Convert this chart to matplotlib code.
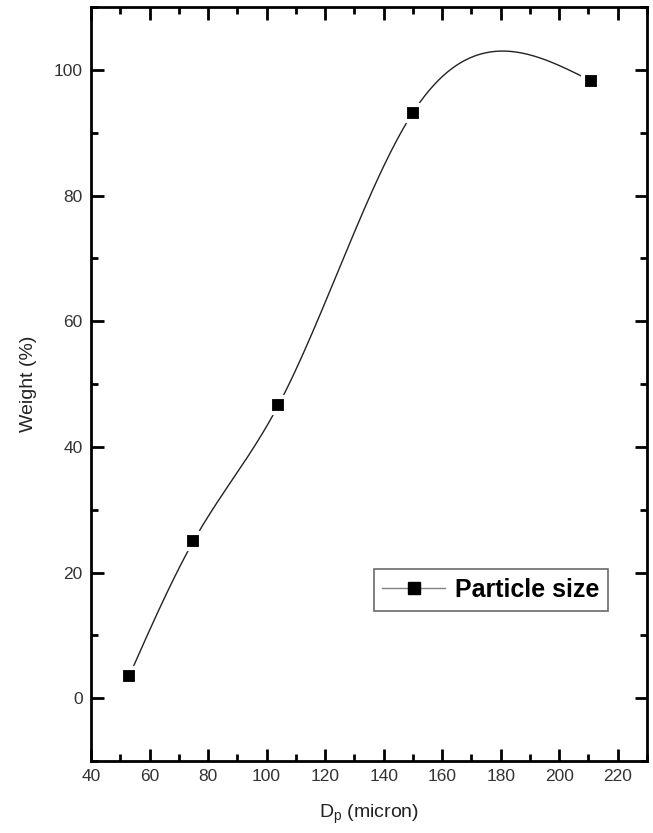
import numpy as np
import matplotlib.pyplot as plt
from matplotlib.ticker import MultipleLocator

plt.rcParams['font.family'] = ['Liberation Sans', 'DejaVu Sans']

# particle size data
dp = [53, 75, 104, 150, 211]
weight = [3.5, 25, 46.6, 93.2, 98.2]


def natural_spline(x, y, xs):
    # natural cubic spline, second derivatives from tridiagonal system
    x = np.asarray(x, float)
    y = np.asarray(y, float)
    n = len(x)
    h = np.diff(x)
    A = np.zeros((n, n))
    b = np.zeros(n)
    A[0, 0] = A[-1, -1] = 1
    for i in range(1, n - 1):
        A[i, i - 1] = h[i - 1]
        A[i, i] = 2 * (h[i - 1] + h[i])
        A[i, i + 1] = h[i]
        b[i] = 6 * ((y[i + 1] - y[i]) / h[i] - (y[i] - y[i - 1]) / h[i - 1])
    M = np.linalg.solve(A, b)
    idx = np.clip(np.searchsorted(x, xs) - 1, 0, n - 2)
    x0, x1 = x[idx], x[idx + 1]
    hh = x1 - x0
    t0, t1 = x1 - xs, xs - x0
    return (M[idx] * t0**3 / (6 * hh) + M[idx + 1] * t1**3 / (6 * hh)
            + (y[idx] / hh - M[idx] * hh / 6) * t0
            + (y[idx + 1] / hh - M[idx + 1] * hh / 6) * t1)


xs = np.linspace(dp[0], dp[-1], 400)
ys = natural_spline(dp, weight, xs)

fig = plt.figure(figsize=(6.53, 8.33), dpi=100)
ax = fig.add_axes([0.1394, 0.0864, 0.8514, 0.9052])

ax.plot(xs, ys, color='#222222', lw=1.0, zorder=2)
ax.plot(dp, weight, ls='none', marker='s', ms=11.5, color='black',
        mec='white', mew=3, zorder=3)
# legend proxy
ax.plot([], [], color='#808080', lw=1.0, marker='s', ms=9,
        mfc='black', mec='black', label='Particle size')

ax.set_xlim(40, 230)
ax.set_ylim(-10, 110)
ax.xaxis.set_major_locator(MultipleLocator(20))
ax.xaxis.set_minor_locator(MultipleLocator(10))
ax.yaxis.set_major_locator(MultipleLocator(20))
ax.yaxis.set_minor_locator(MultipleLocator(10))
ax.set_xticks(np.arange(40, 221, 20))
ax.tick_params(which='both', direction='in', top=True, right=True,
               labelsize=12.5, labelcolor='#333333', width=2, pad=6)
ax.tick_params(which='major', length=9)
ax.tick_params(which='minor', length=5)
for s in ax.spines.values():
    s.set_linewidth(2)

ax.set_xlabel('D$_\\mathregular{p}$ (micron)', fontsize=14, labelpad=13,
              color='#222222')
ax.set_ylabel('Weight (%)', fontsize=14, labelpad=12, color='#222222')

leg = ax.legend(loc='lower right', bbox_to_anchor=(0.930, 0.199),
                prop={'weight': 'bold', 'size': 18}, frameon=True,
                fancybox=False, edgecolor='#444444', handlelength=2.5,
                borderpad=0.35, handletextpad=0.4, borderaxespad=0)
leg.get_frame().set_linewidth(1.2)

fig.savefig('out.png', dpi=100)
